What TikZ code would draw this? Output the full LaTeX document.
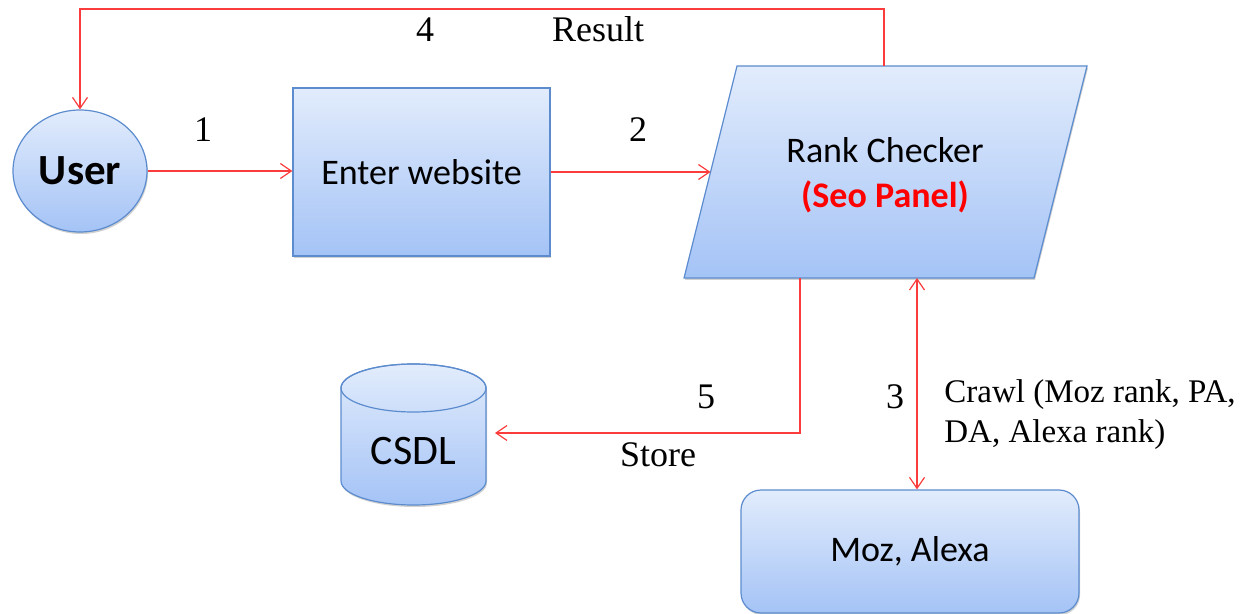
\documentclass[tikz,border=0pt]{standalone}
\usepackage{fontspec}
\setmainfont{Liberation Serif}
\newfontfamily\calfont{Carlito}
\usetikzlibrary{arrows.meta,shapes.geometric,shadows}
\definecolor{boxtop}{RGB}{226,236,252}
\definecolor{boxbot}{RGB}{164,195,246}
\definecolor{boxborder}{RGB}{92,140,206}
\definecolor{linered}{RGB}{250,60,60}
\begin{document}
\begin{tikzpicture}[x=0.5pt,y=-0.5pt,
  box/.style={draw=boxborder, line width=0.6pt, top color=boxtop, bottom color=boxbot,
    drop shadow={shadow xshift=0.5pt, shadow yshift=-1pt, opacity=0.18, fill=black}},
  conn/.style={draw=linered, line width=0.6pt},
  tip/.style={-{Straight Barb[length=5.5pt,width=7.5pt]}},
  lbl/.style={font=\fontsize{18}{20}\selectfont, inner sep=0pt},
  small/.style={font=\fontsize{16.5}{20}\selectfont, inner sep=0pt, align=left},
  ntext/.style={font=\calfont\fontsize{18}{21}\selectfont},
]
\useasboundingbox (0,0) rectangle (1256,614);

% nodes
\node[box, ellipse, minimum width=67pt, minimum height=61pt, inner sep=0pt,
      font=\calfont\bfseries\fontsize{21.5}{24}\selectfont] (user) at (80,171) {User};
\node[box, rectangle, minimum width=128.5pt, minimum height=84pt, ntext] (enter) at (421.5,172) {Enter website};

% parallelogram (Rank Checker)
\path[box] (737,66) -- (1087,66) -- (1034,278) -- (684,278) -- cycle;
\node[ntext, align=center] (rank) at (885,175) {Rank Checker\\[1.5pt]{\bfseries\color{red}(Seo Panel)}};
\coordinate (rankL) at (710.5,172);
\coordinate (rankT) at (884,66);
\coordinate (rankB1) at (800,278);
\coordinate (rankB2) at (917,278);

% cylinder (CSDL)
\path[box] (341,388) -- (341,481)
  arc[start angle=180, end angle=360, x radius=36.25pt, y radius=12pt]
  -- (486,388)
  arc[start angle=0, end angle=180, x radius=36.25pt, y radius=12pt] -- cycle;
\draw[boxborder, line width=0.6pt] (413.5,388) ellipse[x radius=36.25pt, y radius=12pt];
\node[font=\calfont\fontsize{21}{24}\selectfont] (csdl) at (413.5,451) {CSDL};
\coordinate (csdlR) at (495,433);

\node[box, rounded corners=10pt, minimum width=169pt, minimum height=61.5pt, ntext] (moz) at (910,551.5) {Moz, Alexa};

% connectors
\coordinate (topbend) at (884,9);
\draw[conn,tip] (user.east) -- (user.east -| enter.west);
\draw[conn,tip] (enter.east |- rankL) -- (rankL);
\draw[conn,tip] (rankT) -- (topbend) -| (user.north);
\draw[conn,tip] (rankB1) |- (csdlR);
\draw[conn,{Straight Barb[length=5.5pt,width=7.5pt]}-{Straight Barb[length=5.5pt,width=7.5pt]}] (rankB2) -- (rankB2 |- moz.north);

% labels
\node[lbl] (l4) at (425,30) {4};
\node[lbl] (lres) at (598,29) {Result};
\node[lbl] (l1) at (203,130) {1};
\node[lbl] (l2) at (638,130) {2};
\node[lbl] (l5) at (706,397) {5};
\node[lbl] (lstore) at (658,455) {Store};
\node[lbl] (l3) at (895,397) {3};
\node[small, anchor=west] (crawl) at (944,415) {Crawl (Moz rank, PA,\\DA, Alexa rank)};
\end{tikzpicture}
\end{document}
